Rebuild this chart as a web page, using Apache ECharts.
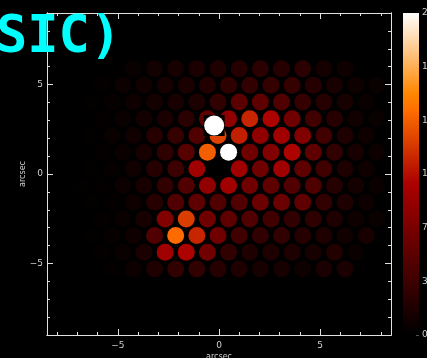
<!DOCTYPE html>
<html><head><meta charset="utf-8">
<script src="https://cdn.jsdelivr.net/npm/echarts@6/dist/echarts.min.js"></script>
<style>html,body{margin:0;padding:0;background:#000;}#c{width:427px;height:358px;}</style>
</head><body><div id="c"></div>
<script>
// ---- data ----
const titleText = 'SIC)';
const axisName = 'arcsec';
// hexagonal fibre rows, top to bottom; first column index of each row
const rowStart = [-4, -5, -6, -5, -6, -5, -6, -6, -6, -5, -6, -5, -5];
// fibre values in each row (colour-bar units), left to right
const rowValues = [
  [5, 11, 13, 15, 18, 22, 24, 22, 24, 12, 8],
  [3, 7, 10, 13, 16, 20, 27, 28, 30, 30, 22, 14, 9, 5],
  [2, 4, 8, 12, 14, 17, 28, 52, 55, 46, 30, 22, 13, 6],
  [3, 6, 11, 15, 24, 55, 83, 115, 100, 65, 37, 22, 10, 5],
  [2, 5, 10, 22, 30, 46, 128, 112, 83, 92, 74, 37, 18, 9],
  [3, 6, 13, 26, 50, 140, 210, 64, 74, 100, 55, 28, 14, 7],
  [2, 4, 10, 22, 35, 92, 0, 92, 64, 92, 55, 37, 18, 9],
  [2, 3, 7, 14, 28, 46, 83, 92, 65, 55, 46, 45, 22, 12, 6],
  [2, 3, 9, 22, 46, 55, 46, 46, 62, 62, 55, 28, 18, 8],
  [3, 6, 13, 74, 125, 65, 55, 46, 37, 28, 26, 18, 9, 5],
  [2, 4, 9, 46, 145, 115, 65, 37, 28, 28, 22, 18, 10, 14],
  [3, 6, 15, 92, 100, 65, 28, 18, 18, 18, 13, 20, 6],
  [3, 7, 18, 28, 28, 22, 18, 13, 13, 9, 15, 15]
];
const starPos = [-0.24, 2.71];            // saturated marker position (arcsec)
const majorTicks = [-5, 0, 5];
const minorTicks = [-8, -7, -6, -4, -3, -2, -1, 1, 2, 3, 4, 6, 7, 8];
const cbMin = 0, cbMax = 210, cbStep = 35;

// ---- geometry of the fibre grid (arcsec) ----
const pitch = 1.046, rowStep = 0.9333, xEven = -0.049, yTop = 5.889;
const fibres = [];
rowValues.forEach((vals, k) => {
  const off = (k % 2) ? -0.5 : 0;
  vals.forEach((v, i) => {
    const j = rowStart[k] + i;
    fibres.push([xEven + pitch * (j + off), yTop - rowStep * k, v]);
  });
});

// IDL-like red temperature colour table
function cmap(v) {
  const r = Math.min(1, v / 0.7);
  const g = Math.max(0, Math.min(1, (v - 0.47) / 0.53));
  const b = Math.max(0, Math.min(1, (v - 0.75) / 0.25));
  return 'rgb(' + Math.round(r * 255) + ',' + Math.round(g * 255) + ',' + Math.round(b * 255) + ')';
}
const stops = [];
for (let i = 0; i <= 40; i++) stops.push(cmap(i / 40));
const gradStops = stops.map((c, i) => ({ offset: 1 - i / 40, color: c }));

const lineCol = '#e0e0e0', labCol = '#cfcfcf';
const fmt = v => (v < 0 ? '\u2212' + Math.abs(v) : String(v));
function xAx(pos, ticks, len, labels, extra) {
  return Object.assign({
    gridIndex: 0, type: 'value', min: -8.5, max: 8.5, position: pos,
    axisLine: { show: true, onZero: false, lineStyle: { color: lineCol, width: 1 } },
    axisTick: { show: true, inside: true, length: len, customValues: ticks, lineStyle: { color: lineCol } },
    axisLabel: { show: labels, customValues: ticks, formatter: fmt, color: labCol, fontSize: 9, margin: 6, fontFamily: 'DejaVu Sans' },
    splitLine: { show: false }
  }, extra || {});
}
function yAx(pos, ticks, len, labels, extra) {
  return Object.assign({
    gridIndex: 0, type: 'value', min: -9, max: 9, position: pos,
    axisLine: { show: true, onZero: false, lineStyle: { color: lineCol, width: 1 } },
    axisTick: { show: true, inside: true, length: len, customValues: ticks, lineStyle: { color: lineCol } },
    axisLabel: { show: labels, customValues: ticks, formatter: fmt, color: labCol, fontSize: 9, margin: 4, fontFamily: 'DejaVu Sans' },
    splitLine: { show: false }
  }, extra || {});
}

const chart = echarts.init(document.getElementById('c'), null, { renderer: 'canvas' });
chart.setOption({
  backgroundColor: '#000',
  animation: false,
  grid: [
    { left: 47, right: 36, top: 13, bottom: 23, outerBoundsMode: 'none', containLabel: false },
    { left: 403, width: 16, top: 13, bottom: 23, outerBoundsMode: 'none', containLabel: false }
  ],
  xAxis: [
    xAx('bottom', majorTicks, 6, true, {
      name: axisName, nameLocation: 'middle', nameGap: 18, nameMoveOverlap: false,
      nameTextStyle: { color: labCol, fontSize: 8, fontFamily: 'DejaVu Sans' }
    }),
    xAx('bottom', minorTicks, 3, false),
    xAx('top', majorTicks, 6, false),
    xAx('top', minorTicks, 3, false),
    { gridIndex: 1, type: 'category', data: [''], show: false }
  ],
  yAxis: [
    yAx('left', majorTicks, 6, true, {
      name: axisName, nameLocation: 'middle', nameGap: 20, nameMoveOverlap: false,
      nameTextStyle: { color: labCol, fontSize: 8, fontFamily: 'DejaVu Sans' }
    }),
    yAx('left', minorTicks, 3, false),
    yAx('right', majorTicks, 6, false),
    yAx('right', minorTicks, 3, false),
    {
      gridIndex: 1, type: 'value', min: cbMin, max: cbMax, interval: cbStep, position: 'right',
      axisLine: { show: false },
      axisTick: { show: true, inside: true, length: 3, lineStyle: { color: '#555' } },
      axisLabel: { color: labCol, fontSize: 9, margin: 3, padding: [6, 0, 0, 0], fontFamily: 'DejaVu Sans' },
      splitLine: { show: false }
    }
  ],
  visualMap: {
    type: 'continuous', min: cbMin, max: cbMax, dimension: 2, seriesIndex: 0,
    show: false, inRange: { color: stops }
  },
  graphic: [{
    type: 'text', x: -4, y: 38, z: 100,
    style: { text: titleText, fill: '#00ffff', font: 'bold 52px "DejaVu Sans Mono"', textAlign: 'left', textVerticalAlign: 'middle', verticalAlign: 'middle' }
  }],
  series: [
    {
      type: 'scatter', xAxisIndex: 0, yAxisIndex: 0, data: fibres,
      symbol: 'circle', symbolSize: 17, silent: true,
      itemStyle: { opacity: 1 }
    },
    {
      type: 'scatter', xAxisIndex: 0, yAxisIndex: 0, data: [starPos],
      symbol: 'rect', symbolSize: 21, silent: true, z: 3,
      itemStyle: { color: '#000', opacity: 1 }
    },
    {
      type: 'scatter', xAxisIndex: 0, yAxisIndex: 0, data: [starPos],
      symbol: 'circle', symbolSize: 20, silent: true, z: 4,
      itemStyle: { color: '#fff', opacity: 1 }
    },
    {
      type: 'bar', xAxisIndex: 4, yAxisIndex: 4, data: [cbMax], barWidth: '100%', silent: true,
      itemStyle: { color: new echarts.graphic.LinearGradient(0, 0, 0, 1, gradStops) }
    }
  ]
});
</script></body></html>
